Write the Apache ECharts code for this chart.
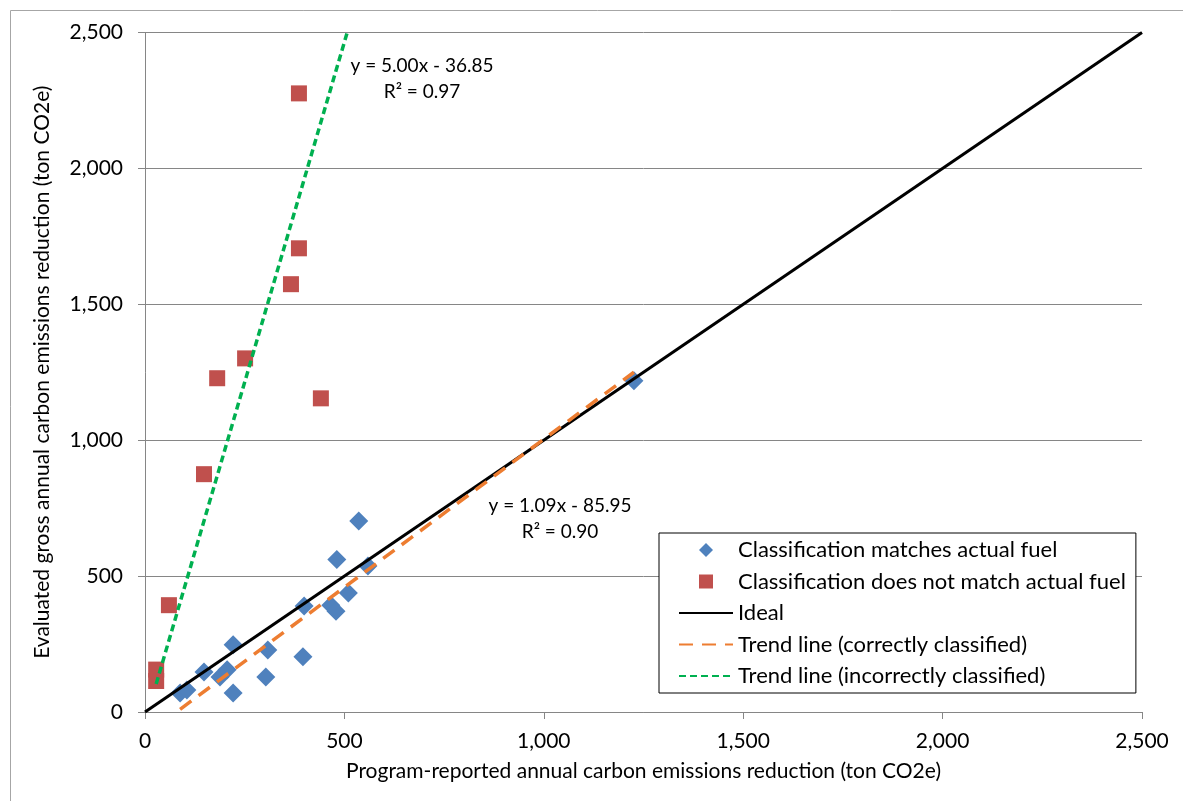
<!DOCTYPE html>
<html>
<head>
<meta charset="utf-8">
<script src="https://cdn.jsdelivr.net/npm/echarts@6/dist/echarts.min.js"></script>
<style>
html,body{margin:0;padding:0;background:#fff;}
#chart{width:1183px;height:801px;}
</style>
</head>
<body>
<div id="chart"></div>
<script>
// Classification matches actual fuel: [program-reported, evaluated]
var matchPoints = [
  [1226,1219],[536,703],[481,561],[559,537],[510,438],[399,390],[466,393],[479,371],
  [396,203],[221,247],[308,228],[148,147],[188,129],[206,155],[221,70],[303,129],[88,70],[105,81]
];
// Classification does not match actual fuel
var mismatchPoints = [
  [386,2276],[386,1706],[366,1574],[251,1301],[181,1228],[441,1154],[148,875],[60,393],[28,156],[28,114]
];
var idealLine = [[0,0],[2500,2500]];
var trendCorrect = [[88,10],[1226,1250]];
var trendIncorrect = [[28,103],[507,2500]];
var axisTicks = [0,500,1000,1500,2000,2500];
var seriesNames = [
  'Classification matches actual fuel',
  'Classification does not match actual fuel',
  'Ideal',
  'Trend line (correctly classified)',
  'Trend line (incorrectly classified)'
];
var eqCorrect = 'y = 1.09x - 85.95\nR² = 0.90';
var eqIncorrect = 'y = 5.00x - 36.85\nR² = 0.97';
var xAxisName = 'Program-reported annual carbon emissions reduction (ton CO2e)';
var yAxisName = 'Evaluated gross annual carbon emissions reduction (ton CO2e)';

var FONT = 'Lato';
var fmt = function (v) { return v.toLocaleString('en-US'); };
var chart = echarts.init(document.getElementById('chart'));
var axisCommon = {
  type: 'value',
  min: axisTicks[0],
  max: axisTicks[axisTicks.length - 1],
  interval: axisTicks[1] - axisTicks[0],
  axisLine: { show: true, lineStyle: { color: '#868686', width: 1 } },
  axisTick: { show: true, inside: false, length: 7, lineStyle: { color: '#868686' } },
  axisLabel: { color: '#000', fontFamily: FONT, fontSize: 21, formatter: fmt },
  nameLocation: 'middle',
  nameTextStyle: { color: '#000', fontFamily: FONT, fontSize: 21 }
};
var hiddenSymbol = { color: 'rgba(0,0,0,0)', borderColor: 'rgba(0,0,0,0)', borderWidth: 0 };
chart.setOption({
  animation: false,
  backgroundColor: '#fff',
  grid: { left: 145, right: 41, top: 32.5, bottom: 89, containLabel: false },
  xAxis: Object.assign({}, axisCommon, {
    name: xAxisName, nameGap: 49,
    splitLine: { show: false },
    axisLabel: Object.assign({}, axisCommon.axisLabel, { margin: 19 })
  }),
  yAxis: Object.assign({}, axisCommon, {
    name: yAxisName, nameGap: 92,
    splitLine: { show: true, lineStyle: { color: '#868686', width: 1 } },
    axisLabel: Object.assign({}, axisCommon.axisLabel, { margin: 22 })
  }),
  legend: {
    orient: 'vertical',
    left: 659, top: 533,
    padding: [6, 10, 6, 19],
    itemWidth: 54, itemHeight: 14, itemGap: 9.5,
    symbolKeepAspect: true,
    backgroundColor: '#fff',
    borderColor: '#000', borderWidth: 1, borderRadius: 0,
    textStyle: { color: '#000', fontFamily: FONT, fontSize: 22, lineHeight: 21 },
    data: [
      { name: seriesNames[0], icon: 'path://M0,-1L1,0L0,1L-1,0Z', itemStyle: { color: '#4F81BD', opacity: 1 } },
      { name: seriesNames[1], icon: 'path://M0,0L1,0L1,1L0,1Z', itemStyle: { color: '#C0504D', opacity: 1 } },
      { name: seriesNames[2], itemStyle: hiddenSymbol },
      { name: seriesNames[3], itemStyle: hiddenSymbol },
      { name: seriesNames[4], itemStyle: hiddenSymbol }
    ]
  },
  graphic: [
    { type: 'rect', left: 8, top: 8, z: -10, silent: true,
      shape: { x: 0, y: 0, width: 1300, height: 900 },
      style: { fill: 'none', stroke: '#a6a6a6', lineWidth: 1 } },
    { type: 'text', x: 560, y: 519, z: 10,
      style: { text: eqCorrect, fill: '#000', font: '19px ' + FONT, textAlign: 'center', textVerticalAlign: 'middle', lineHeight: 26 } },
    { type: 'text', x: 422, y: 79, z: 10,
      style: { text: eqIncorrect, fill: '#000', font: '19px ' + FONT, textAlign: 'center', textVerticalAlign: 'middle', lineHeight: 26 } }
  ],
  series: [
    { name: seriesNames[0], type: 'scatter', data: matchPoints, symbol: 'diamond', symbolSize: 19,
      itemStyle: { color: '#4F81BD', opacity: 1 }, z: 2 },
    { name: seriesNames[1], type: 'scatter', data: mismatchPoints, symbol: 'rect', symbolSize: 16,
      itemStyle: { color: '#C0504D', opacity: 1 }, z: 2 },
    { name: seriesNames[2], type: 'line', data: idealLine, showSymbol: false, symbol: 'none',
      lineStyle: { color: '#000', width: 3 }, itemStyle: { color: '#000' }, z: 3 },
    { name: seriesNames[3], type: 'line', data: trendCorrect, showSymbol: false, symbol: 'none',
      lineStyle: { color: '#ED7D31', width: 3.5, type: [14, 9] }, itemStyle: { color: '#ED7D31' }, z: 4 },
    { name: seriesNames[4], type: 'line', data: trendIncorrect, showSymbol: false, symbol: 'none',
      lineStyle: { color: '#00B050', width: 3.5, type: [7, 4] }, itemStyle: { color: '#00B050' }, z: 4 }
  ]
});
</script>
</body>
</html>
